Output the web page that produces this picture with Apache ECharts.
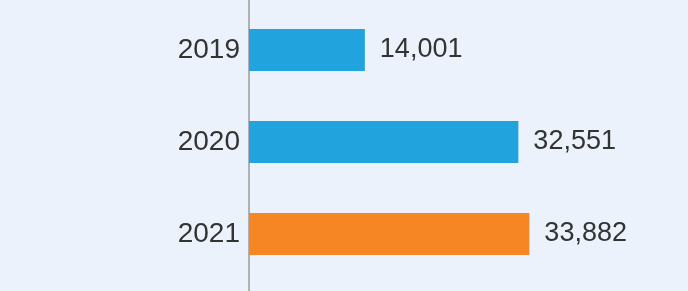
<!DOCTYPE html>
<html>
<head>
<meta charset="utf-8">
<script src="https://cdn.jsdelivr.net/npm/echarts@6/dist/echarts.min.js"></script>
<style>
html,body{margin:0;padding:0;background:#ebf2fb;}
#c{width:688px;height:291px;}
</style>
</head>
<body>
<div id="c"></div>
<script>
const categories = ['2019', '2020', '2021'];
const values = [14001, 32551, 33882];
const barColors = ['#21a4dd', '#21a4dd', '#f68624'];

const chart = echarts.init(document.getElementById('c'), null, {renderer: 'canvas'});
chart.setOption({
  backgroundColor: '#ebf2fb',
  animation: false,
  grid: [
    {left: 249, width: 331, top: 4, bottom: 11},
    {left: 248.5, width: 10, top: 0, bottom: 0}
  ],
  xAxis: [
    {gridIndex: 0, type: 'value', min: 0, max: 40000, show: false},
    {gridIndex: 1, type: 'value', show: false}
  ],
  yAxis: [
    {
      gridIndex: 0, type: 'category', data: categories, inverse: true,
      axisLine: {show: false}, axisTick: {show: false},
      axisLabel: {color: '#333333', fontSize: 28, fontFamily: 'Liberation Sans, Arial, sans-serif', margin: 9}
    },
    {
      gridIndex: 1, type: 'value', axisLabel: {show: false}, splitLine: {show: false},
      axisTick: {show: false},
      axisLine: {show: true, lineStyle: {color: '#9a9a9a', width: 1.5}}
    }
  ],
  series: [{
    type: 'bar',
    xAxisIndex: 0, yAxisIndex: 0,
    data: values.map((v, i) => ({value: v, itemStyle: {color: barColors[i]}})),
    barWidth: 42,
    label: {
      show: true, position: 'right', distance: 15,
      color: '#333333', fontSize: 27, fontFamily: 'Liberation Sans, Arial, sans-serif',
      formatter: p => p.value.toLocaleString('en-US')
    }
  }]
});
</script>
</body>
</html>
